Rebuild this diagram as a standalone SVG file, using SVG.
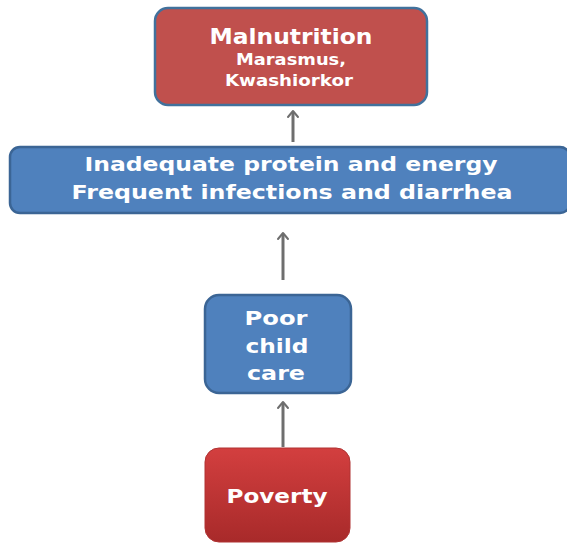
<svg xmlns="http://www.w3.org/2000/svg" width="567" height="544" viewBox="0 0 567 544">
<style>
.t{font-family:"DejaVu Sans","Liberation Sans",sans-serif;font-weight:bold;fill:#ffffff;text-anchor:middle}
.c{stroke:#6e6e6e;stroke-width:3;fill:none}
.h{stroke:#6e6e6e;stroke-width:2;fill:none;stroke-linecap:round;stroke-linejoin:round}
</style>
<defs>
<linearGradient id="gr" x1="0" y1="0" x2="0" y2="1">
<stop offset="0" stop-color="#d33f3f"/>
<stop offset="1" stop-color="#a82a2a"/>
</linearGradient>
</defs>
<rect width="567" height="544" fill="#ffffff"/>
<g id="connectors">
<line class="c" x1="293" y1="142" x2="293" y2="112"/>
<polyline class="h" points="288,117 293,111 298,117"/>
<line class="c" x1="283" y1="280" x2="283" y2="234"/>
<polyline class="h" points="278,239 283,233 288,239"/>
<line class="c" x1="283" y1="447" x2="283" y2="403"/>
<polyline class="h" points="278,408 283,402 288,408"/>
</g>
<g id="malnutrition">
<rect x="155" y="8" width="272" height="97" rx="13" fill="#c0504d" stroke="#41719c" stroke-width="2.5"/>
<text class="t" x="291" y="44" font-size="22" textLength="163" lengthAdjust="spacingAndGlyphs">Malnutrition</text>
<text class="t" x="291" y="65" font-size="15" textLength="110" lengthAdjust="spacingAndGlyphs">Marasmus,</text>
<text class="t" x="289" y="86" font-size="15" textLength="128" lengthAdjust="spacingAndGlyphs">Kwashiorkor</text>
</g>
<g id="inadequate">
<rect x="10" y="147" width="560" height="66" rx="10" fill="#4f81bd" stroke="#3b6595" stroke-width="2.5"/>
<text class="t" x="291" y="171" font-size="20" textLength="413" lengthAdjust="spacingAndGlyphs">Inadequate protein and energy</text>
<text class="t" x="292" y="199" font-size="20" textLength="441" lengthAdjust="spacingAndGlyphs">Frequent infections and diarrhea</text>
</g>
<g id="childcare">
<rect x="205" y="295" width="146" height="98" rx="14" fill="#4f81bd" stroke="#3b6595" stroke-width="2.5"/>
<text class="t" x="276" y="325" font-size="20" textLength="63" lengthAdjust="spacingAndGlyphs">Poor</text>
<text class="t" x="277" y="353" font-size="20" textLength="63" lengthAdjust="spacingAndGlyphs">child</text>
<text class="t" x="276" y="380" font-size="20" textLength="58" lengthAdjust="spacingAndGlyphs">care</text>
</g>
<g id="poverty">
<rect x="205" y="448" width="145" height="94" rx="14" fill="url(#gr)" stroke="#b03333" stroke-width="1"/>
<text class="t" x="277" y="503" font-size="20" textLength="101" lengthAdjust="spacingAndGlyphs">Poverty</text>
</g>
</svg>
